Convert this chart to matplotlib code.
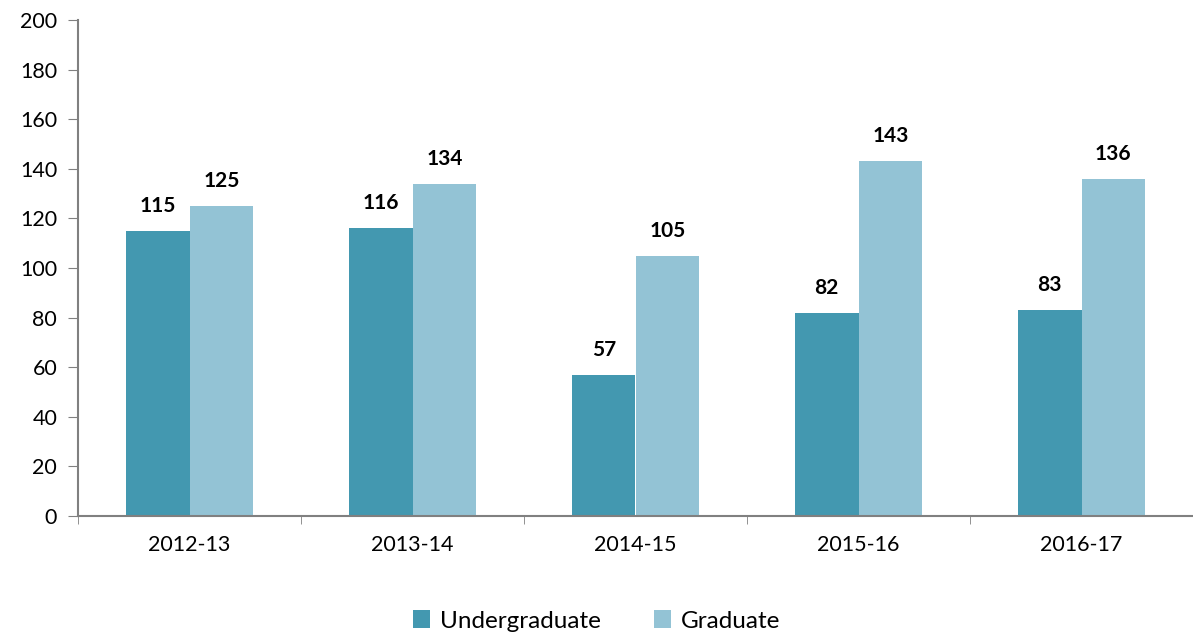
import numpy as np
import matplotlib.pyplot as plt

years = ["2012-13", "2013-14", "2014-15", "2015-16", "2016-17"]
undergrad = [115, 116, 57, 82, 83]
graduate = [125, 134, 105, 143, 136]

c_under = "#4398b0"
c_grad = "#93c3d5"

plt.rcParams["font.family"] = ["Lato", "DejaVu Sans"]

fig = plt.figure(figsize=(11.93, 6.36), dpi=100)
ax = fig.add_axes([78 / 1193, 120 / 636, 1 - 78 / 1193, 496 / 636])

x = np.arange(len(years))
w = 0.285
b1 = ax.bar(x - w / 2, undergrad, w, color=c_under, label="Undergraduate")
b2 = ax.bar(x + w / 2, graduate, w, color=c_grad, label="Graduate")

for bars in (b1, b2):
    for b in bars:
        ax.text(b.get_x() + b.get_width() / 2, b.get_height() + 6, f"{int(b.get_height())}",
                ha="center", va="bottom", fontsize=15, fontweight="bold")

ax.set_ylim(0, 200)
ax.set_yticks(range(0, 201, 20))
ax.set_xlim(-0.5, -0.5 + (1193 - 78) / 226)
ax.set_xticks(x)
ax.set_xticklabels(years)
ax.set_xticks(np.arange(-0.5, 4.6, 1), minor=True)
ax.tick_params(axis="x", which="major", length=0, pad=14, labelsize=15.5)
ax.tick_params(axis="x", which="minor", length=6, direction="out", color="#808080")
ax.tick_params(axis="y", length=7, direction="out", color="#808080", labelsize=15.5, pad=8)

for s in ("top", "right"):
    ax.spines[s].set_visible(False)
for s in ("left", "bottom"):
    ax.spines[s].set_color("#808080")
    ax.spines[s].set_linewidth(1.5)

fig.legend(handles=[b1, b2], loc="center", bbox_to_anchor=(0.5, 1 - 621 / 636), ncol=2,
           frameon=False, fontsize=17.5, handlelength=0.7, handleheight=0.7,
           handletextpad=0.4, columnspacing=2.2)

fig.savefig("out.png", dpi=100)
